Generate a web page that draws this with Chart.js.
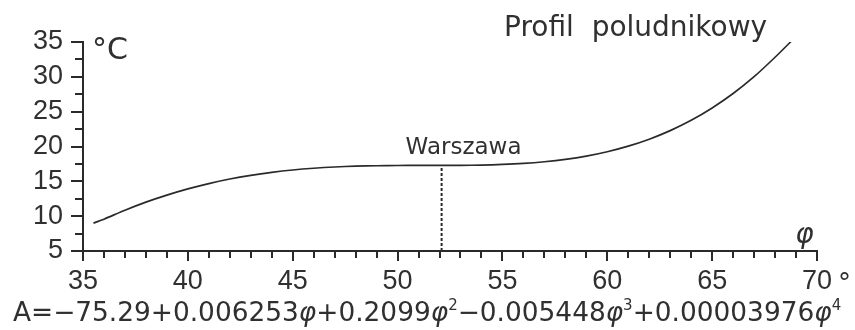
<!DOCTYPE html>
<html>
<head>
<meta charset="utf-8">
<script src="https://cdn.jsdelivr.net/npm/chart.js@4/dist/chart.umd.min.js"></script>
<style>
  html, body { margin: 0; padding: 0; background: #fff; }
  #wrap { width: 855px; height: 330px; }
</style>
</head>
<body>
<div id="wrap"><canvas id="c" width="855" height="330"></canvas></div>
<script>
// Meridional profile of mean annual temperature amplitude A (°C) vs latitude φ
const latitudes = [35.5, 36, 37, 38, 39, 40, 41, 42, 43, 44, 45, 46, 47, 48, 49, 50, 51, 52,
                   53, 54, 55, 56, 57, 58, 59, 60, 61, 62, 63, 64, 65, 66, 67, 68, 69];
const amplitudes = [9.0, 9.57, 10.85, 12.01, 13.02, 13.91, 14.68, 15.33, 15.86, 16.29, 16.63,
                    16.88, 17.06, 17.18, 17.24, 17.27, 17.28, 17.28, 17.29, 17.33, 17.42, 17.57,
                    17.81, 18.15, 18.62, 19.25, 20.05, 21.05, 22.28, 23.76, 25.53, 27.60, 30.02,
                    32.81, 35.8];

const warsawLatitude = 52.1;
const warsawAmplitude = 17.28;

const xTickValues = [35, 40, 45, 50, 55, 60, 65, 70];
const yTickValues = [5, 10, 15, 20, 25, 30, 35];

const INK = '#2a2a2a';
const TEXT_INK = '#303030';
const TEXT_FONT = "'DejaVu Sans', 'Noto Sans', sans-serif";
const DIGIT_FONT = "'Liberation Sans', Arial, sans-serif";

const decor = {
  id: 'decor',
  afterDraw(chart) {
    const { ctx, scales: { x, y } } = chart;
    ctx.save();

    // minor tick marks
    ctx.strokeStyle = INK;
    ctx.lineWidth = 2;
    ctx.beginPath();
    for (let v = 36; v < 70; v++) {
      if (v % 5 === 0) continue;
      const px = Math.round(x.getPixelForValue(v));
      ctx.moveTo(px, x.top);
      ctx.lineTo(px, x.top + 7);
    }
    for (let v = 7.5; v < 35; v += 5) {
      const py = Math.round(y.getPixelForValue(v));
      ctx.moveTo(y.right - 8, py);
      ctx.lineTo(y.right, py);
    }
    ctx.stroke();

    ctx.fillStyle = TEXT_INK;
    ctx.textBaseline = 'alphabetic';
    ctx.textAlign = 'left';

    // unit of the value axis
    ctx.font = `30px ${TEXT_FONT}`;
    ctx.fillText('°C', y.right + 9, y.getPixelForValue(35) + 17);

    // title
    ctx.font = `28px ${TEXT_FONT}`;
    ctx.fillText('Profil  poludnikowy', 504, 36);

    // Warsaw marker label
    const wx = x.getPixelForValue(warsawLatitude);
    ctx.font = `23px ${TEXT_FONT}`;
    ctx.fillText('Warszawa', wx - 36, 154);

    // latitude axis symbol and degree sign
    ctx.font = `italic 28px ${TEXT_FONT}`;
    ctx.textAlign = 'center';
    ctx.fillText('φ', x.getPixelForValue(69.4), x.top - 8);
    ctx.textAlign = 'left';
    ctx.font = `26px ${TEXT_FONT}`;
    ctx.fillText('°', x.right + 21, 292);

    // fitted polynomial
    const parts = [
      ['A=−75.29+0.006253', 'n'], ['φ', 'i'], ['+0.2099', 'n'], ['φ', 'i'], ['2', 's'],
      ['−0.005448', 'n'], ['φ', 'i'], ['3', 's'], ['+0.00003976', 'n'], ['φ', 'i'], ['4', 's']
    ];
    let cx = 13;
    const base = 321;
    for (const [t, k] of parts) {
      if (k === 'n') ctx.font = `26.4px ${TEXT_FONT}`;
      else if (k === 'i') ctx.font = `italic 26.4px ${TEXT_FONT}`;
      else ctx.font = `15px ${TEXT_FONT}`;
      ctx.fillText(t, cx, k === 's' ? base - 11 : base);
      cx += ctx.measureText(t).width;
    }
    ctx.restore();
  }
};

new Chart(document.getElementById('c'), {
  type: 'line',
  data: {
    datasets: [
      {
        data: latitudes.map((v, i) => ({ x: v, y: amplitudes[i] })),
        borderColor: INK,
        borderWidth: 1.7,
        pointRadius: 0,
        tension: 0.3,
        fill: false
      },
      {
        data: [{ x: warsawLatitude, y: 5 }, { x: warsawLatitude, y: warsawAmplitude }],
        borderColor: INK,
        borderWidth: 2,
        borderDash: [3, 2],
        pointRadius: 0,
        fill: false
      }
    ]
  },
  options: {
    responsive: false,
    animation: false,
    devicePixelRatio: 1,
    layout: { padding: { left: 0, right: 38, top: 42, bottom: 0 } },
    plugins: { legend: { display: false }, tooltip: { enabled: false } },
    scales: {
      x: {
        type: 'linear',
        min: 35,
        max: 70,
        afterBuildTicks: s => { s.ticks = xTickValues.map(v => ({ value: v })); },
        afterFit: s => { s.height = 79; },
        grid: { drawOnChartArea: false, drawTicks: true, tickLength: 10, color: INK, lineWidth: 2 },
        border: { display: true, color: INK, width: 2 },
        ticks: { padding: 4, color: TEXT_INK, maxRotation: 0, autoSkip: false,
                 font: { family: DIGIT_FONT, size: 27 } }
      },
      y: {
        type: 'linear',
        min: 5,
        max: 35,
        afterBuildTicks: s => { s.ticks = yTickValues.map(v => ({ value: v })); },
        afterFit: s => { s.width = 83; },
        grid: { drawOnChartArea: false, drawTicks: true, tickLength: 12, color: INK, lineWidth: 2 },
        border: { display: true, color: INK, width: 2 },
        ticks: { padding: 8, color: TEXT_INK, autoSkip: false,
                 font: { family: DIGIT_FONT, size: 27 } }
      }
    }
  },
  plugins: [decor]
});
</script>
</body>
</html>
